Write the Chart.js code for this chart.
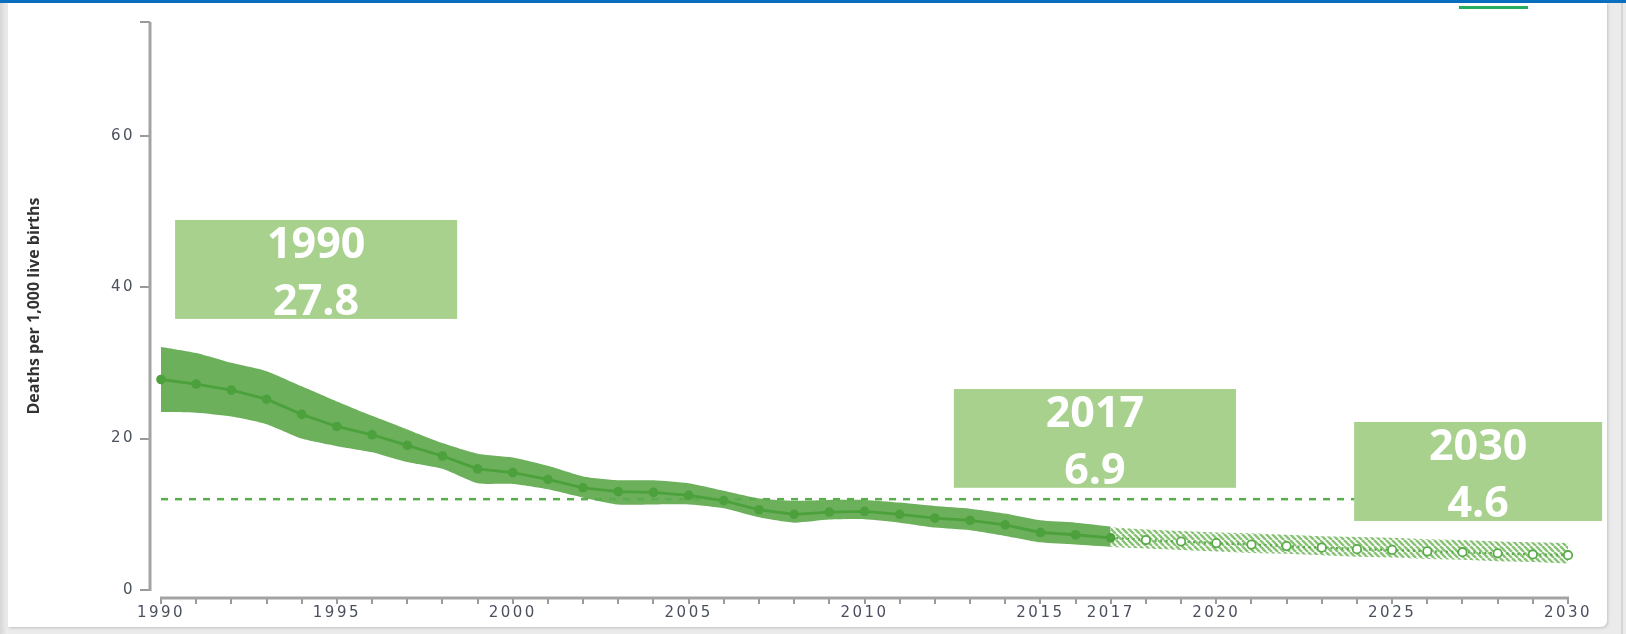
<!DOCTYPE html>
<html>
<head>
<meta charset="utf-8">
<script src="https://cdn.jsdelivr.net/npm/chart.js@4.4.1/dist/chart.umd.min.js"></script>
<style>
html,body{margin:0;padding:0;width:1626px;height:634px;overflow:hidden;background:#ebebeb}
#topbar{position:absolute;left:0;top:0;width:1626px;height:3px;background:#0a6fbf}
#leftedge{position:absolute;left:0;top:3px;width:8px;height:631px;background:linear-gradient(to right,#d6d6d6,#efefef)}
#card{position:absolute;left:8px;top:3px;width:1599px;height:624px;background:#fff;border-radius:0 0 6px 0;box-shadow:1px 1px 3px rgba(0,0,0,.18)}
#rightline{position:absolute;left:1621px;top:3px;width:2px;height:631px;background:#d4d4d4}
#tab{position:absolute;left:1459px;top:6px;width:69px;height:3px;background:#26ae5f}
canvas{position:absolute;left:0;top:0}
</style>
</head>
<body>
<div id="topbar"></div>
<div id="leftedge"></div>
<div id="card"></div>
<div id="rightline"></div>
<div id="tab"></div>
<canvas id="chart" width="1626" height="634"></canvas>
<script>
const histYears = [1990,1991,1992,1993,1994,1995,1996,1997,1998,1999,2000,2001,2002,2003,2004,2005,2006,2007,2008,2009,2010,2011,2012,2013,2014,2015,2016,2017];
const histRate  = [27.8,27.2,26.4,25.2,23.2,21.6,20.5,19.1,17.7,16.0,15.5,14.6,13.5,13.0,12.9,12.5,11.8,10.6,10.0,10.3,10.4,10.0,9.5,9.2,8.6,7.6,7.3,6.9];
const histUpper = [32.1,31.3,30.0,28.9,26.9,24.9,23.0,21.2,19.4,18.0,17.5,16.4,15.0,14.5,14.5,14.1,13.1,12.1,11.8,11.9,11.9,11.55,11.1,10.75,10.1,9.2,8.9,8.4];
const histLower = [23.5,23.4,22.9,21.9,20.0,19.0,18.2,16.9,16.0,14.1,14.0,13.3,12.2,11.3,11.3,11.3,10.8,9.6,8.9,9.3,9.35,8.9,8.25,7.9,7.15,6.3,6.0,5.7];

const projYears = [2017,2018,2019,2020,2021,2022,2023,2024,2025,2026,2027,2028,2029,2030];
const projRate  = [6.9,6.6,6.4,6.2,6.0,5.8,5.6,5.4,5.3,5.1,5.0,4.85,4.7,4.6];
const projUpper = [8.3,8.0,7.8,7.6,7.5,7.3,7.1,7.0,6.9,6.7,6.6,6.4,6.3,6.2];
const projLower = [5.7,5.5,5.3,5.1,4.9,4.8,4.6,4.4,4.3,4.1,4.0,3.8,3.7,3.5];

const targetYears = [1990,2030];
const targetRate  = [12,12];

const yTickLabels = [0,20,40,60];
const xTickLabels = [1990,1995,2000,2005,2010,2015,2017,2020,2025,2030];
const yTitle = 'Deaths per 1,000 live births';

const X_FIRST = 1990, X_LAST = 2030, Y_TOP = 75;
const allYears = [];
for(let y=X_FIRST; y<=X_LAST; y++) allYears.push(y);

// callout boxes, in data units
const callouts = [
  {x0:1990.40, x1:1998.42, y0:35.8, y1:48.86, year:histYears[0], value:histRate[0]},
  {x0:2012.54, x1:2020.56, y0:13.5, y1:26.54, year:histYears[histYears.length-1], value:histRate[histRate.length-1]},
  {x0:2023.92, x1:2030.97, y0:9.12, y1:22.19, year:projYears[projYears.length-1], value:projRate[projRate.length-1]}
];

const pts = (xs, ys) => xs.map((x,i)=>({x, y:ys[i]}));

function hatch(){
  const s=6, c=document.createElement('canvas'); c.width=s; c.height=s;
  const g=c.getContext('2d');
  g.strokeStyle='rgba(118,184,96,0.85)'; g.lineWidth=2.6;
  g.beginPath();
  [-s,0,s].forEach(o=>{ g.moveTo(o,0); g.lineTo(o+s,s); });
  g.stroke();
  return document.getElementById('chart').getContext('2d').createPattern(c,'repeat');
}

const GREEN='#4ca13c', BAND='#6cb05c', BOX='#a9d18e';

const decor = {
  id:'decor',
  beforeDraw(chart){ chart.ctx.letterSpacing='2.5px'; },
  beforeDatasetsDraw(chart){
    const {ctx, chartArea, scales:{x,y}} = chart;
    ctx.letterSpacing='0px';
    ctx.save();
    ctx.strokeStyle='#a3a3a3'; ctx.lineWidth=3;
    ctx.beginPath();
    ctx.moveTo(chartArea.left, y.getPixelForValue(Y_TOP));
    ctx.lineTo(chartArea.left, y.getPixelForValue(0)+1);
    ctx.moveTo(x.getPixelForValue(X_FIRST)-1, chartArea.bottom);
    ctx.lineTo(x.getPixelForValue(X_LAST)+1, chartArea.bottom);
    ctx.stroke();
    ctx.translate(34, y.getPixelForValue(Y_TOP/2));
    ctx.rotate(-Math.PI/2);
    ctx.font='bold 16px "Open Sans"'; ctx.fillStyle='#333';
    ctx.textAlign='center'; ctx.textBaseline='middle';
    ctx.fillText(yTitle, 0, 0);
    ctx.restore();
  },
  afterDatasetsDraw(chart){
    const {ctx, scales:{x,y}} = chart;
    ctx.save();
    ctx.letterSpacing='0px';
    callouts.forEach(b=>{
      const l=x.getPixelForValue(b.x0), r=x.getPixelForValue(b.x1);
      const t=y.getPixelForValue(b.y1), btm=y.getPixelForValue(b.y0);
      ctx.fillStyle=BOX; ctx.fillRect(l,t,r-l,btm-t);
      ctx.fillStyle='#fff'; ctx.font='bold 43px "Open Sans"';
      ctx.textAlign='center'; ctx.textBaseline='alphabetic';
      ctx.fillText(String(b.year), (l+r)/2, t+38);
      ctx.fillText(b.value.toFixed(1), (l+r)/2, t+95);
    });
    ctx.restore();
  }
};

new Chart(document.getElementById('chart'), {
  type:'line',
  data:{
    datasets:[
      {data:pts(projYears,projRate), borderColor:'#5aab4a', borderWidth:2.4, borderDash:[2,3.5],
       pointRadius:c=>c.dataIndex===0?0:4.2, pointBackgroundColor:'#fff', pointBorderColor:'#5aab4a', pointBorderWidth:1.8, clip:false},
      {data:pts(histYears,histRate), borderColor:GREEN, borderWidth:2.8,
       pointRadius:4.8, pointBackgroundColor:GREEN, pointBorderWidth:0},
      {data:pts(targetYears,targetRate), borderColor:'#5aad4c', borderWidth:2.5, borderDash:[7,7], pointRadius:0},
      {data:pts(projYears,projUpper), borderWidth:0, pointRadius:0, fill:'+1', backgroundColor:hatch()},
      {data:pts(projYears,projLower), borderWidth:0, pointRadius:0},
      {data:pts(histYears,histUpper), borderWidth:0, pointRadius:0, fill:'+1', backgroundColor:BAND, tension:0.2},
      {data:pts(histYears,histLower), borderWidth:0, pointRadius:0, tension:0.2}
    ]
  },
  options:{
    responsive:false, animation:false,
    layout:{padding:{left:0, top:22, right:58, bottom:6}},
    plugins:{legend:{display:false}, tooltip:{enabled:false}},
    scales:{
      x:{type:'linear', min:1989.687, max:X_LAST,
         afterBuildTicks:s=>{ s.ticks=allYears.map(v=>({value:v})); },
         afterFit:s=>{ s.height=30; },
         ticks:{autoSkip:false, maxRotation:0, padding:0, color:'#4a505e',
                font:{family:'DejaVu Sans', size:15},
                callback:v=>xTickLabels.includes(v)?String(v):''},
         grid:{drawOnChartArea:false, drawTicks:true, tickLength:6, color:'#9a9a9a', lineWidth:2},
         border:{display:false}},
      y:{min:-1.05, max:Y_TOP,
         afterBuildTicks:s=>{ s.ticks=[0,20,40,60,Y_TOP].map(v=>({value:v})); },
         afterFit:s=>{ s.width=150; },
         ticks:{padding:5, color:'#4a505e', font:{family:'DejaVu Sans', size:15},
                callback:v=>yTickLabels.includes(v)?String(v):''},
         grid:{drawOnChartArea:false, drawTicks:true, tickLength:10, color:'#9a9a9a', lineWidth:2},
         border:{display:false}}
    }
  },
  plugins:[decor]
});
</script>
</body>
</html>
